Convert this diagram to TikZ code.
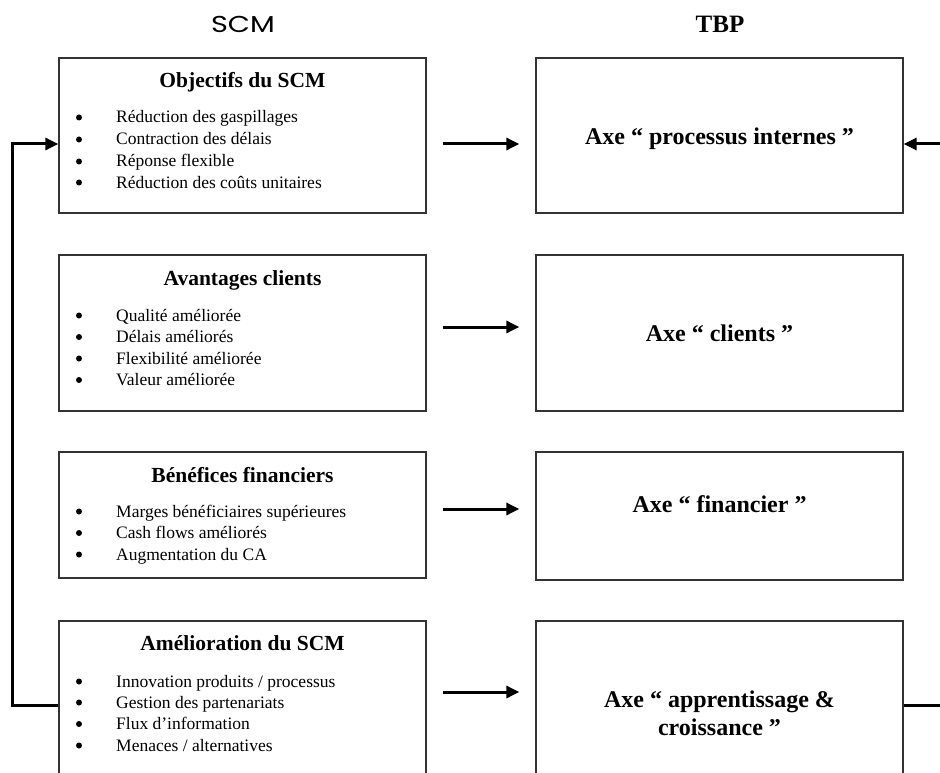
\documentclass[tikz,border=0pt]{standalone}
\usepackage{fontspec}
\setmainfont{Liberation Serif}
\newfontfamily\headsans{Poppins}
\usetikzlibrary{arrows.meta}
\definecolor{boxline}{HTML}{333333}
\tikzset{
  panel/.style={draw=boxline, line width=1.3pt, minimum width=367pt, inner sep=0pt, fill=white},
  ttl/.style={font=\fontsize{21.5}{26}\selectfont\bfseries, anchor=base, inner sep=0pt},
  itm/.style={font=\fontsize{17.5}{21.7}\selectfont, anchor=base west, inner sep=0pt},
  bul/.style={circle, fill=black, inner sep=0pt, minimum size=6pt},
  axe/.style={font=\fontsize{24}{28}\selectfont\bfseries, align=center, inner sep=0pt},
  arr/.style={line width=3pt, -{Triangle[length=13pt,width=12pt]}},
  fb/.style={line width=3pt},
}
\begin{document}
\begin{tikzpicture}[x=1pt,y=-1pt]
\useasboundingbox (0,0) rectangle (940,773);
\clip (0,0) rectangle (940,773);
% column heads
\node[font=\headsans\fontsize{23}{27}\selectfont, anchor=base, inner sep=0pt] (hscm) at (243,33) {\scalebox{1.25}[1]{SCM}};
\node[font=\fontsize{25}{30}\selectfont\bfseries, anchor=base, inner sep=0pt] (htbp) at (720,33) {TBP};
% left boxes
\node[panel, minimum height=155pt] (L1) at (242.5,135.5) {};
\node[panel, minimum height=156pt] (L2) at (242.5,333) {};
\node[panel, minimum height=126pt] (L3) at (242.5,515) {};
\node[panel, minimum height=169pt] (L4) at (242.5,705.5) {};
% right boxes
\node[panel, minimum height=155pt] (R1) at (719.5,135.5) {};
\node[panel, minimum height=156pt] (R2) at (719.5,333) {};
\node[panel, minimum height=128pt] (R3) at (719.5,516) {};
\node[panel, minimum height=169pt] (R4) at (719.5,705.5) {};
% titles
\node[ttl] (t1) at (242.5,88) {Objectifs du SCM};
\node[ttl] (t2) at (242.5,285) {Avantages clients};
\node[ttl] (t3) at (242.5,482) {Bénéfices financiers};
\node[ttl] (t4) at (242.5,650) {Amélioration du SCM};
% items
\foreach \y/\t [count=\i] in {123/{Réduction des gaspillages}, 145/{Contraction des délais}, 167/{Réponse flexible}, 188/{Réduction des coûts unitaires}}{
  \node[bul] (b1-\i) at (79,\y-5.5) {};
  \node[itm] (i1-\i) at (116,\y) {\t};
}
\foreach \y/\t [count=\i] in {321/{Qualité améliorée}, 342.5/{Délais améliorés}, 364/{Flexibilité améliorée}, 385.5/{Valeur améliorée}}{
  \node[bul] (b2-\i) at (79,\y-5.5) {};
  \node[itm] (i2-\i) at (116,\y) {\t};
}
\foreach \y/\t [count=\i] in {517/{Marges bénéficiaires supérieures}, 538.5/{Cash flows améliorés}, 560/{Augmentation du CA}}{
  \node[bul] (b3-\i) at (79,\y-5.5) {};
  \node[itm] (i3-\i) at (116,\y) {\t};
}
\foreach \y/\t [count=\i] in {687/{Innovation produits / processus}, 708/{Gestion des partenariats}, 729.5/{Flux d’information}, 751/{Menaces / alternatives}}{
  \node[bul] (b4-\i) at (79,\y-5.5) {};
  \node[itm] (i4-\i) at (116,\y) {\t};
}
% axis texts
\node[axe, anchor=base] (x1) at (719.5,145) {Axe “ processus internes ”};
\node[axe, anchor=base] (x2) at (719.5,341) {Axe “ clients ”};
\node[axe, anchor=base] (x3) at (719.5,512) {Axe “ financier ”};
\node[axe, anchor=base] (x4a) at (719.5,707) {Axe “ apprentissage \&};
\node[axe, anchor=base] (x4b) at (719.5,735) {croissance ”};
% arrow levels
\coordinate (a1) at (0,144);
\coordinate (a2) at (0,327);
\coordinate (a3) at (0,509);
\coordinate (a4) at (0,692);
\draw[arr, shorten <=16pt, shorten >=16pt] (L1.east |- a1) -- (R1.west |- a1);
\draw[arr, shorten <=16pt, shorten >=16pt] (L2.east |- a2) -- (R2.west |- a2);
\draw[arr, shorten <=16pt, shorten >=16pt] (L3.east |- a3) -- (R3.west |- a3);
\draw[arr, shorten <=16pt, shorten >=16pt] (L4.east |- a4) -- (R4.west |- a4);
% feedback loop on the left
\coordinate (fbx) at (12,0);
\draw[fb, -{Triangle[length=13pt,width=12pt]}] (L4.west) -| (fbx |- a1) -- (L1.west |- a1);
% right edge connections
\coordinate (rin) at (950,144);
\coordinate (rout) at (950,705.5);
\draw[arr] (rin) -- (R1.east |- a1);
\draw[fb] (R4.east) -- (rout);
\end{tikzpicture}
\end{document}
